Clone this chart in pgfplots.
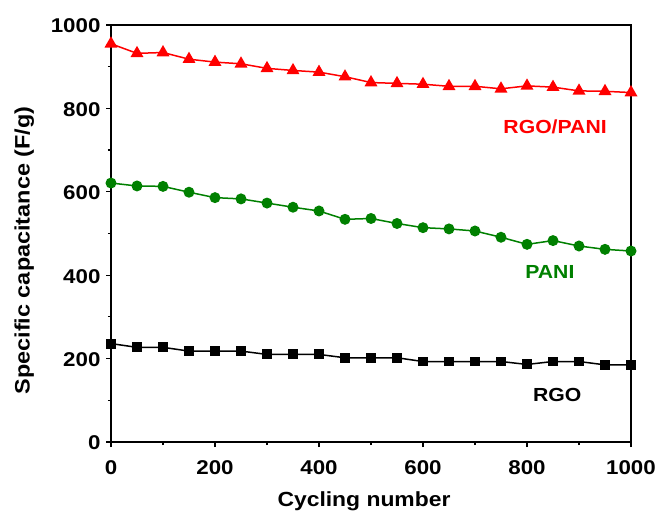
\documentclass[border=0pt]{standalone}
\usepackage{pgfplots}
\pgfplotsset{compat=1.18}
\usepackage{fontspec}
\setmainfont{Liberation Sans}[FakeStretch=1.12]
\definecolor{ogreen}{RGB}{0,128,0}
\begin{document}
\begin{tikzpicture}
\begin{axis}[
  at={(0,0)}, anchor=south west,
  width=520bp, height=417bp, scale only axis,
  xmin=0, xmax=1000, ymin=0, ymax=1000,
  xtick={0,200,...,1000}, ytick={0,200,...,1000},
  minor xtick={100,300,...,900}, minor ytick={100,300,...,900},
  xtick pos=left, ytick pos=left,
  tick align=outside,
  major tick length=5bp, minor tick length=3bp,
  axis line style={line width=1.4bp},
  every tick/.style={line width=1.2bp, black},
  /pgf/number format/assume math mode=true,
  /pgf/number format/1000 sep={},
  tick label style={font=\fontsize{20}{22}\selectfont\bfseries},
  xticklabel style={yshift=-10bp},
  yticklabel style={xshift=-2bp, yshift=-1bp},
  xlabel style={font=\fontsize{20.5}{22}\selectfont\bfseries, yshift=-10bp, xshift=-7bp},
  ylabel style={font=\fontsize{21}{22}\selectfont\bfseries, yshift=10bp, xshift=-17bp},
  xlabel={Cycling number},
  ylabel={Specific capacitance (F/g)},
  clip=false,
]
\addplot[red, line width=1.5bp, mark=triangle*, mark size=6bp, mark options={solid}] coordinates {
(0,955) (50,932) (100,934) (150,918) (200,911) (250,907) (300,896) (350,891) (400,887) (450,876) (500,862) (550,860) (600,858) (650,853) (700,853) (750,847) (800,854) (850,851) (900,842) (950,841) (1000,838)};
\addplot[ogreen, line width=1.5bp, mark=*, mark size=4.7bp] coordinates {
(0,621) (50,614) (100,613) (150,599) (200,586) (250,583) (300,573) (350,563) (400,554) (450,534) (500,536) (550,524) (600,514) (650,511) (700,506) (750,491) (800,474) (850,483) (900,470) (950,462) (1000,458)};
\addplot[black, line width=1.5bp, mark=square*, mark size=4.2bp] coordinates {
(0,236) (50,227) (100,227) (150,218) (200,218) (250,218) (300,210) (350,210) (400,210) (450,202) (500,202) (550,202) (600,193) (650,193) (700,193) (750,193) (800,186) (850,193) (900,193) (950,185) (1000,185)};
\node[red, font=\fontsize{19}{20}\selectfont\bfseries] at (axis cs:854,755) {RGO/PANI};
\node[ogreen, font=\fontsize{19}{20}\selectfont\bfseries] at (axis cs:844,408) {PANI};
\node[black, font=\fontsize{19}{20}\selectfont\bfseries] at (axis cs:858,112) {RGO};
\end{axis}
\pgfresetboundingbox
\useasboundingbox (-111bp,-69bp) rectangle (548bp,442bp);
\end{tikzpicture}
\end{document}
